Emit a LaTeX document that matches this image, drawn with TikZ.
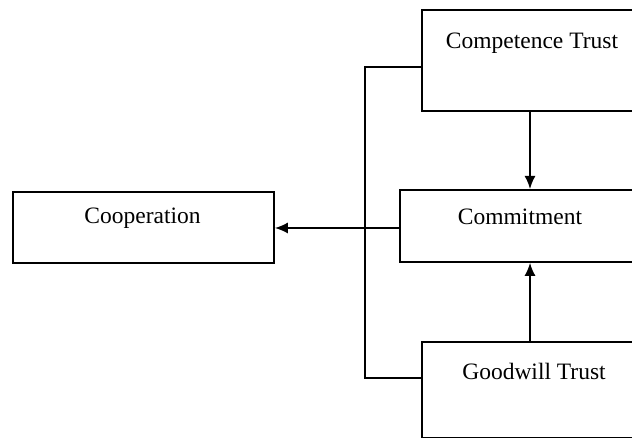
\documentclass[tikz,border=0pt]{standalone}
\usepackage{fontspec}
\setmainfont{Liberation Serif}
\usetikzlibrary{arrows.meta,calc}
\begin{document}
\begin{tikzpicture}[x=1pt,y=-1pt,
  box/.style={draw,line width=1.8pt,rectangle,inner sep=0pt,anchor=north west},
  lbl/.style={font=\fontsize{23.5}{26}\selectfont,inner sep=0pt},
  conn/.style={line width=1.8pt},
  arr/.style={line width=1.8pt,-{Latex[length=13pt,width=11pt]}}]
\clip (0,0) rectangle (632,438);
\fill[white] (0,0) rectangle (632,438);
% boxes
\node[box,minimum width=222pt,minimum height=101pt] (ct) at (421,9) {};
\node[box,minimum width=242pt,minimum height=72pt] (cm) at (399,189) {};
\node[box,minimum width=226pt,minimum height=96pt] (gw) at (421,341) {};
\node[box,minimum width=261pt,minimum height=71pt] (co) at (12,191) {};
% labels
\node[lbl] (ctt) at (532,43) {Competence Trust};
\node[lbl] (cmt) at (520,217) {Commitment};
\node[lbl] (gwt) at (534,371) {Goodwill Trust};
\node[lbl] (cot) at (142.5,218) {Cooperation};
% junctions
\coordinate (jt) at (365,67);
\coordinate (jm) at (365,228);
\coordinate (jb) at (365,378);
\coordinate (ax) at (530,0);
% connectors
\draw[conn] (ct.west |- jt) -- (jt) -- (jb) -- (gw.west |- jb);
\draw[conn] (cm.west |- jm) -- (jm);
\draw[arr] (jm) -- (co.east |- jm);
\draw[arr] (ct.south -| ax) -- (cm.north -| ax);
\draw[arr] (gw.north -| ax) -- (cm.south -| ax);
\end{tikzpicture}
\end{document}
